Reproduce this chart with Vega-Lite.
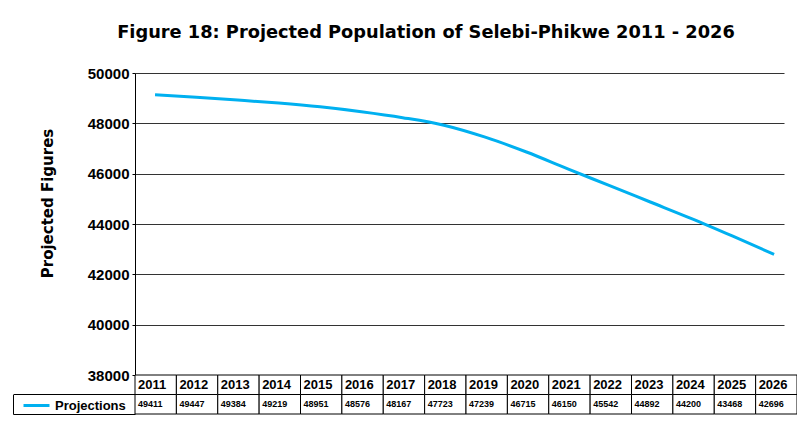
{
  "$schema": "https://vega.github.io/schema/vega-lite/v6.json",
  "background": "white",
  "padding": {"left": 12, "top": 24, "right": 0, "bottom": 0},
  "title": {
    "text": "Figure 18: Projected Population of Selebi-Phikwe 2011 - 2026",
    "font": "DejaVu Sans",
    "fontSize": 17.8,
    "fontWeight": "bold",
    "color": "#000000",
    "anchor": "middle",
    "offset": 24,
    "dx": 21
  },
  "bounds": "flush",
  "spacing": 0,
  "resolve": {"legend": {"color": "independent"}},
  "datasets": {
    "pop": [
      {"year": 2011, "line": 49137, "table": 49411},
      {"year": 2012, "line": 49035, "table": 49447},
      {"year": 2013, "line": 48925, "table": 49384},
      {"year": 2014, "line": 48805, "table": 49219},
      {"year": 2015, "line": 48655, "table": 48951},
      {"year": 2016, "line": 48460, "table": 48576},
      {"year": 2017, "line": 48225, "table": 48167},
      {"year": 2018, "line": 47925, "table": 47723},
      {"year": 2019, "line": 47450, "table": 47239},
      {"year": 2020, "line": 46860, "table": 46715},
      {"year": 2021, "line": 46190, "table": 46150},
      {"year": 2022, "line": 45534, "table": 45542},
      {"year": 2023, "line": 44874, "table": 44892},
      {"year": 2024, "line": 44214, "table": 44200},
      {"year": 2025, "line": 43514, "table": 43468},
      {"year": 2026, "line": 42793, "table": 42696}
    ]
  },
  "vconcat": [
    {
      "width": 649,
      "height": 302,
      "data": {"name": "pop"},
      "mark": {"type": "line", "interpolate": "monotone", "strokeWidth": 3},
      "encoding": {
        "x": {
          "field": "year",
          "type": "quantitative",
          "scale": {"domain": [2010.515, 2026.24], "nice": false, "zero": false},
          "axis": null
        },
        "y": {
          "field": "line",
          "type": "quantitative",
          "scale": {"domain": [38000, 50000], "nice": false, "zero": false},
          "axis": {
            "title": "Projected Figures",
            "titleFont": "DejaVu Sans",
            "titleFontSize": 15,
            "titleFontWeight": "bold",
            "titleColor": "#000000",
            "titlePadding": 32,
            "titleY": 130,
            "values": [38000, 40000, 42000, 44000, 46000, 48000, 50000],
            "format": "d",
            "labelFont": "Liberation Sans",
            "labelFontSize": 15,
            "labelFontWeight": "bold",
            "labelColor": "#000000",
            "labelPadding": 3,
            "labelFlush": false,
            "labelOverlap": false,
            "tickSize": 3,
            "tickColor": "#000000",
            "domainColor": "#000000",
            "domainWidth": 1,
            "grid": true,
            "gridColor": "#333333",
            "gridWidth": 1,
            "gridOpacity": 1
          }
        },
        "color": {
          "datum": "Projections",
          "type": "nominal",
          "scale": {"range": ["#00B0F0"]},
          "legend": {
            "orient": "none",
            "legendX": -113,
            "legendY": 318,
            "title": null,
            "padding": 0,
            "symbolType": "stroke",
            "symbolSize": 676,
            "symbolStrokeWidth": 3,
            "symbolStrokeColor": "#00B0F0",
            "labelFont": "Liberation Sans",
            "labelFontSize": 13,
            "labelFontWeight": "bold",
            "labelColor": "#000000",
            "labelOffset": 4
          }
        }
      }
    },
    {
      "width": 662,
      "height": 39,
      "data": {"name": "pop"},
      "encoding": {
        "x": {
          "field": "year",
          "type": "ordinal",
          "scale": {"paddingInner": 0, "paddingOuter": 0},
          "axis": null
        }
      },
      "layer": [
        {
          "mark": {"type": "rect", "fill": "white", "stroke": "black", "strokeWidth": 1},
          "encoding": {
            "y": {
              "datum": "Year",
              "type": "nominal",
              "scale": {"type": "band", "domain": ["Year", "Projections"], "paddingInner": 0, "paddingOuter": 0},
              "axis": {
                "title": null,
                "labels": false,
                "offset": 122,
                "bandPosition": 1,
                "tickExtra": false,
                "tickSize": -122,
                "tickColor": "#000000",
                "tickWidth": 1,
                "domain": true,
                "domainColor": "#000000",
                "domainWidth": 1,
                "domainDash": [0, 19.5, 20, 100]
              }
            }
          }
        },
        {
          "mark": {"type": "rect", "fill": "white", "stroke": "black", "strokeWidth": 1},
          "encoding": {
            "y": {"datum": "Projections", "type": "nominal"}
          }
        },
        {
          "mark": {"type": "text", "align": "left", "baseline": "middle", "dx": 3, "font": "Liberation Sans", "fontSize": 13, "fontWeight": "bold", "color": "#000000"},
          "encoding": {
            "x": {"field": "year", "type": "ordinal", "bandPosition": 0},
            "y": {"datum": "Year", "type": "nominal"},
            "text": {"field": "year", "type": "ordinal"}
          }
        },
        {
          "mark": {"type": "text", "align": "left", "baseline": "middle", "dx": 3, "font": "Liberation Sans", "fontSize": 9, "fontWeight": "bold", "color": "#000000"},
          "encoding": {
            "x": {"field": "year", "type": "ordinal", "bandPosition": 0},
            "y": {"datum": "Projections", "type": "nominal"},
            "text": {"field": "table", "type": "quantitative", "format": "d"}
          }
        }
      ]
    }
  ],
  "config": {
    "view": {"stroke": null}
  }
}
